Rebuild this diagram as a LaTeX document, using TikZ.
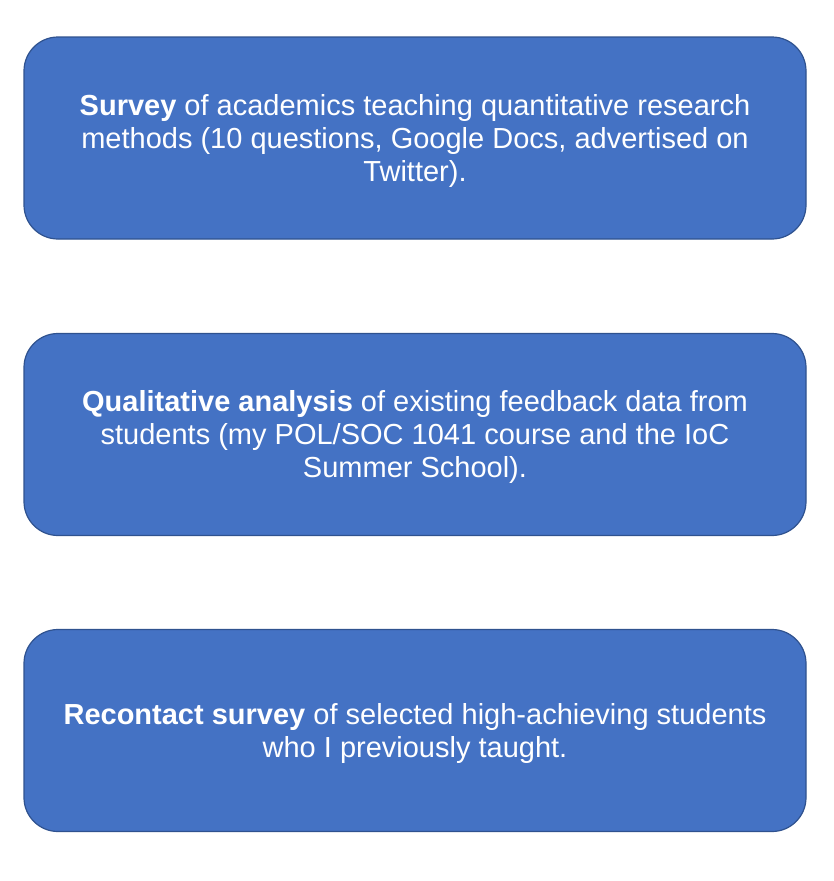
\documentclass[tikz,border=0pt]{standalone}
\usepackage{fontspec}
\setmainfont{Liberation Sans}
\definecolor{boxfill}{HTML}{4472C4}
\definecolor{boxline}{HTML}{2F528F}
\begin{document}
\begin{tikzpicture}[x=1pt,y=-1pt,
  stagebox/.style={draw=boxline, fill=boxfill, line width=1.2pt, rounded corners=34pt,
    minimum width=782pt, minimum height=202pt, inner sep=0pt},
  stagetext/.style={text=white, align=center,
    font=\fontsize{29pt}{33pt}\selectfont, inner sep=0pt}]
\useasboundingbox (0,0) rectangle (834,881);
\node[stagebox] (survey) at (415,138) {};
\node[stagebox] (qual) at (415,434.5) {};
\node[stagebox] (recontact) at (415,730.5) {};
\node[stagetext] (surveytext) at ([yshift=-2.5pt]survey.center) {\textbf{Survey} of academics teaching quantitative research\\methods (10 questions, Google Docs, advertised on\\Twitter).};
\node[stagetext] (qualtext) at ([yshift=-2pt]qual.center) {\textbf{Qualitative analysis} of existing feedback data from\\students (my POL/SOC 1041 course and the IoC\\Summer School).};
\node[stagetext] (recontacttext) at ([yshift=-2.5pt]recontact.center) {\textbf{Recontact survey} of selected high-achieving students\\who I previously taught.};
\end{tikzpicture}
\end{document}
